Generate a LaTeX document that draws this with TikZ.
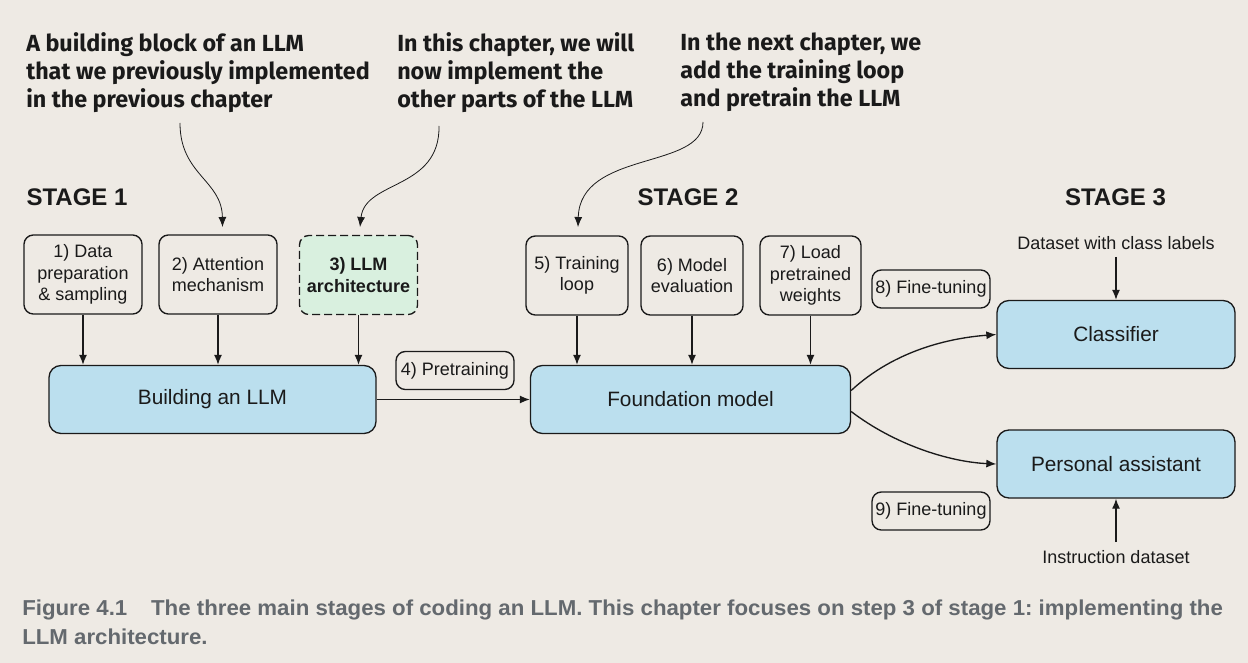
\documentclass[tikz,border=0pt]{standalone}
\usepackage{fontspec}
\setmainfont{Liberation Sans}
\newfontfamily\annotfont{Fira Sans}
\newfontfamily\capfont[FakeStretch=1.03]{Liberation Sans}
\usetikzlibrary{arrows.meta,calc}
\definecolor{bg}{HTML}{EEEAE4}
\definecolor{boxblue}{HTML}{BBDFEE}
\definecolor{boxgreen}{HTML}{D9F0DF}
\definecolor{capgray}{HTML}{64696E}
\definecolor{ink}{HTML}{1A1A1A}
\frenchspacing
\begin{document}
\begin{tikzpicture}[x=0.75pt,y=-0.75pt,
  every node/.style={text=ink},
  stepbox/.style={draw=ink, line width=1pt, rounded corners=7pt, align=center,
    font=\fontsize{13.5}{16.2}\selectfont, inner sep=0pt,
    minimum width=118*0.75pt, minimum height=79*0.75pt},
  narrowbox/.style={stepbox, minimum width=102*0.75pt},
  labelbox/.style={draw=ink, line width=1pt, rounded corners=7pt,
    font=\fontsize{13.5}{16.2}\selectfont, inner sep=0pt,
    minimum width=118*0.75pt, minimum height=38*0.75pt},
  bigbox/.style={draw=ink, line width=1pt, rounded corners=9pt, fill=boxblue,
    font=\fontsize{15.6}{18}\selectfont, inner sep=0pt, minimum height=68*0.75pt},
  stagelabel/.style={font=\bfseries\fontsize{18}{20}\selectfont, inner sep=0pt},
  note/.style={font=\annotfont\bfseries\fontsize{17.5}{21}\selectfont, align=left, inner sep=0pt, anchor=north west},
  plain/.style={font=\fontsize{13.5}{16}\selectfont, inner sep=0pt},
  arr/.style={draw=ink, line width=1pt, -{Latex[length=7.5pt,width=6pt]}},
  thinarr/.style={draw=ink, line width=0.6pt, -{Latex[length=7.5pt,width=6pt]}}
]
\fill[bg] (0,0) rectangle (1248,663);
\useasboundingbox (0,0) rectangle (1248,663);

% annotations
\node[note] (n1) at (26,32.5) {A building block of an LLM\\that we previously implemented\\in the previous chapter};
\node[note] (n2) at (397,32.5) {In this chapter, we will\\now implement the\\other parts of the LLM};
\node[note] (n3) at (680,32.5) {In the next chapter, we\\add the training loop\\and pretrain the LLM};

% stage labels
\node[stagelabel] (s1) at (77,197) {STAGE 1};
\node[stagelabel] (s2) at (688,197) {STAGE 2};
\node[stagelabel] (s3) at (1115.5,197) {STAGE 3};

% step boxes
\node[stepbox] (b1) at (83,274.5) {1) Data\\preparation\\\& sampling};
\node[stepbox] (b2) at (218,274.5) {2) Attention\\mechanism};
\node[stepbox, fill=boxgreen, dashed, dash pattern=on 6pt off 3pt, font=\bfseries\fontsize{13.5}{16.2}\selectfont] (b3) at (358.5,275) {3) LLM\\architecture};
\node[narrowbox] (b5) at (577,275.5) {5) Training\\loop};
\node[narrowbox] (b6) at (692,275.5) {6) Model\\evaluation};
\node[narrowbox, minimum width=101*0.75pt] (b7) at (810.5,275.5) {7) Load\\pretrained\\weights};
\node[labelbox] (b4) at (455,370.5) {4) Pretraining};
\node[labelbox] (b8) at (931,289) {8) Fine-tuning};
\node[labelbox] (b9) at (931,511) {9) Fine-tuning};

% big boxes
\node[bigbox, minimum width=327*0.75pt] (build) at (212.5,399.5) {Building an LLM};
\node[bigbox, minimum width=320*0.75pt] (found) at (690.5,399.5) {Foundation model};
\node[bigbox, minimum width=238*0.75pt] (clf) at (1116,334.5) {Classifier};
\node[bigbox, minimum width=238*0.75pt] (pa) at (1116,464) {Personal assistant};

% dataset labels
\node[plain] (d1) at (1116,243) {Dataset with class labels};
\node[plain] (d2) at (1116,557) {Instruction dataset};

% annotation arrows
\coordinate (a1s) at (180,123);
\coordinate (a1e) at (222.5,227);
\coordinate (a2s) at (439,126);
\coordinate (a2e) at (360,227);
\coordinate (a3s) at (703,122);
\coordinate (a3e) at (578,227);
\draw[thinarr] (a1s) .. controls (180,175) and (222,180) .. (a1e);
\draw[thinarr] (a2s) .. controls (440,190) and (365,180) .. (a2e);
\draw[thinarr] (a3s) .. controls (703,170) and (580,150) .. (a3e);

% vertical arrows
\draw[arr] (b1.south) -- (b1.south |- build.north);
\draw[arr] (b2.south) -- (b2.south |- build.north);
\draw[arr] (b3.south) -- (b3.south |- build.north);
\draw[arr] (b5.south) -- (b5.south |- found.north);
\draw[arr] (b6.south) -- (b6.south |- found.north);
\draw[arr] (b7.south) -- (b7.south |- found.north);
\draw[arr] ($(d1.south)+(0,7)$) -- (clf.north);
\draw[arr] ($(d2.north)+(0,-8)$) -- (pa.south);

% horizontal and curved arrows
\draw[arr] (build.east) -- (found.west);
\draw[arr] ($(found.east)+(0,-9)$) .. controls (895,350) and (950,338) .. (clf.west);
\draw[arr] ($(found.east)+(0,12)$) .. controls (895,445) and (950,462) .. (pa.west);

% caption
\node[font=\capfont\bfseries\fontsize{16.2}{21.75}\selectfont, text=capgray, align=left, inner sep=0pt, anchor=north west] (cap) at (22,599.5)
 {Figure 4.1\hspace{1.1em}The three main stages of coding an LLM. This chapter focuses on step 3 of stage 1: implementing the\\LLM architecture.};
\end{tikzpicture}
\end{document}
